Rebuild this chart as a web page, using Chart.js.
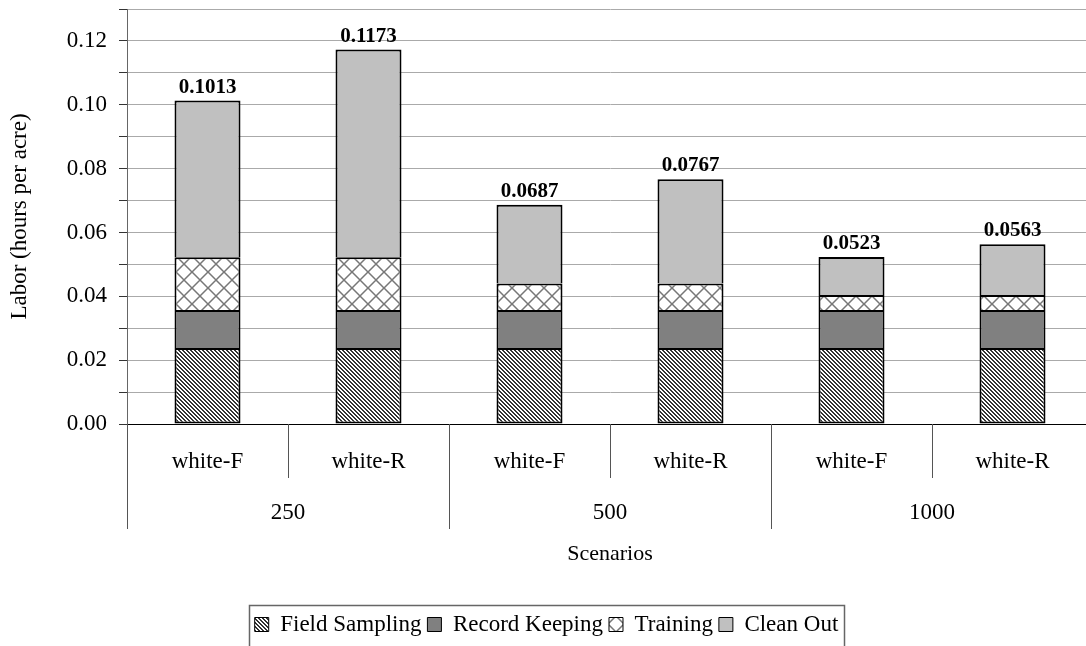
<!DOCTYPE html>
<html>
<head>
<meta charset="utf-8">
<script src="https://cdn.jsdelivr.net/npm/chart.js@4.4.1/dist/chart.umd.min.js"></script>
<style>
  html, body { margin: 0; padding: 0; background: #fff; overflow: hidden; }
  #contenedor { width: 1094px; height: 646px; }
</style>
</head>
<body>
<div id="contenedor"><canvas id="grafica"></canvas></div>
<script>
// Datos
const categorias = ['white-F', 'white-R', 'white-F', 'white-R', 'white-F', 'white-R'];
const grupos = ['250', '500', '1000'];
const fieldSampling = [0.0238, 0.0238, 0.0238, 0.0238, 0.0238, 0.0238];
const recordKeeping = [0.0119, 0.0119, 0.0119, 0.0119, 0.0119, 0.0119];
const training = [0.0165, 0.0165, 0.0083, 0.0083, 0.0047, 0.0047];
const cleanOut = [0.0491, 0.0651, 0.0247, 0.0327, 0.0119, 0.0159];

Chart.defaults.font.family = "'Liberation Serif', 'Times New Roman', serif";
Chart.defaults.color = '#000';

const canvas = document.getElementById('grafica');
const ctxBase = canvas.getContext('2d');

// Patron de rayas diagonales
function patronRayas() {
  const c = document.createElement('canvas');
  c.width = 4; c.height = 4;
  const g = c.getContext('2d');
  g.fillStyle = '#fff';
  g.fillRect(0, 0, 4, 4);
  g.fillStyle = '#333';
  for (let yy = 0; yy < 4; yy++) {
    for (let xx = 0; xx < 4; xx++) {
      if ((((xx - yy) % 4) + 4) % 4 < 2) g.fillRect(xx, yy, 1, 1);
    }
  }
  return ctxBase.createPattern(c, 'repeat');
}

// Patron de rombos
function patronRombos() {
  const c = document.createElement('canvas');
  c.width = 16; c.height = 16;
  const g = c.getContext('2d');
  g.fillStyle = '#fff';
  g.fillRect(0, 0, 16, 16);
  g.strokeStyle = '#777';
  g.lineWidth = 1.5;
  g.beginPath();
  g.moveTo(0, 0); g.lineTo(16, 16);
  g.moveTo(16, 0); g.lineTo(0, 16);
  g.stroke();
  return ctxBase.createPattern(c, 'repeat');
}

// Separadores y etiquetas de grupo bajo el eje x, y marco de la leyenda
const separadores = {
  id: 'separadores',
  afterDraw(chart) {
    const ctx = chart.ctx;
    const x = chart.scales.x;
    const y0 = chart.chartArea.bottom;
    const ancho = x.getPixelForValue(1) - x.getPixelForValue(0);
    ctx.save();
    ctx.strokeStyle = '#555';
    ctx.lineWidth = 1;
    for (let i = 0; i <= categorias.length; i++) {
      const px = Math.round(x.getPixelForValue(i) - ancho / 2) + 0.5;
      const largo = (i % 2 === 0) ? 105 : 54;
      ctx.beginPath();
      ctx.moveTo(px, y0);
      ctx.lineTo(px, y0 + largo);
      ctx.stroke();
    }
    ctx.font = "23px 'Liberation Serif'";
    ctx.fillStyle = '#000';
    ctx.textAlign = 'center';
    ctx.textBaseline = 'middle';
    grupos.forEach((g, k) => {
      const cx = (x.getPixelForValue(2 * k) + x.getPixelForValue(2 * k + 1)) / 2;
      ctx.fillText(g, cx, y0 + 89);
    });

    const cajas = chart.legend.legendHitBoxes;
    if (cajas && cajas.length) {
      const ult = cajas[cajas.length - 1];
      const izq = Math.round(cajas[0].left - 6) + 0.5;
      const der = Math.round(ult.left + ult.width + 6) + 0.5;
      const arriba = Math.round(chart.legend.top - 2) + 0.5;
      ctx.strokeStyle = '#666';
      ctx.lineWidth = 1.5;
      ctx.strokeRect(izq, arriba, der - izq, 60);
    }
    ctx.restore();
  }
};

// Totales sobre cada barra
const totales = {
  id: 'totales',
  afterDatasetsDraw(chart) {
    const ctx = chart.ctx;
    const meta = chart.getDatasetMeta(chart.data.datasets.length - 1);
    ctx.save();
    ctx.font = "bold 21px 'Liberation Serif'";
    ctx.fillStyle = '#000';
    ctx.textAlign = 'center';
    ctx.textBaseline = 'alphabetic';
    meta.data.forEach((barra, i) => {
      const total = fieldSampling[i] + recordKeeping[i] + training[i] + cleanOut[i];
      ctx.fillText(total.toFixed(4), barra.x, barra.y - 8);
    });
    ctx.restore();
  }
};

const estiloBarra = {
  borderColor: '#000',
  borderWidth: { top: 2, left: 2, right: 2, bottom: 0 },
  borderSkipped: false,
  barPercentage: 0.41,
  categoryPercentage: 1.0,
};

new Chart(canvas, {
  type: 'bar',
  data: {
    labels: categorias,
    datasets: [
      Object.assign({}, estiloBarra, { label: 'Field Sampling', data: fieldSampling, backgroundColor: patronRayas(),
        borderWidth: { top: 2, left: 2, right: 2, bottom: 2 } }),
      Object.assign({}, estiloBarra, { label: 'Record Keeping', data: recordKeeping, backgroundColor: '#808080' }),
      Object.assign({}, estiloBarra, { label: 'Training', data: training, backgroundColor: patronRombos() }),
      Object.assign({}, estiloBarra, { label: 'Clean Out', data: cleanOut, backgroundColor: '#c0c0c0' }),
    ],
  },
  options: {
    responsive: true,
    maintainAspectRatio: false,
    animation: false,
    layout: { padding: { top: 9, left: 0, right: 1, bottom: 0 } },
    plugins: {
      legend: {
        position: 'bottom',
        labels: {
          color: '#000',
          font: { size: 23 },
          boxWidth: 14,
          boxHeight: 14,
          padding: 6,
          generateLabels: (chart) => Chart.defaults.plugins.legend.labels.generateLabels(chart)
            .map(l => Object.assign(l, { lineWidth: 1 })),
        },
      },
      tooltip: { enabled: false },
    },
    scales: {
      x: {
        stacked: true,
        afterFit: (s) => { s.height = 183; s.paddingLeft = 0; s.paddingRight = 0; },
        grid: { display: false, drawTicks: false },
        border: { display: true, color: '#000', width: 1 },
        ticks: { padding: 24, color: '#000', font: { size: 23 } },
        title: {
          display: true,
          text: 'Scenarios',
          color: '#000',
          font: { size: 22 },
          padding: { top: 0, bottom: 40 },
        },
      },
      y: {
        stacked: true,
        min: 0,
        max: 0.13,
        afterFit: (s) => { s.width = 127; s.paddingTop = 0; s.paddingBottom = 0; },
        ticks: {
          stepSize: 0.01,
          padding: 12,
          color: '#000',
          font: { size: 23 },
          callback: (v) => (Math.round(v * 100) % 2 === 0 ? v.toFixed(2) : ''),
        },
        grid: {
          color: (c) => (c.tick && c.tick.value === 0 ? '#000' : '#aaa'),
          tickColor: '#333',
          tickLength: 8,
          lineWidth: 1,
        },
        border: { color: '#666', width: 1 },
        title: {
          display: true,
          text: 'Labor (hours per acre)',
          color: '#000',
          font: { size: 23 },
          padding: { top: 6, bottom: 0 },
        },
      },
    },
  },
  plugins: [separadores, totales],
});
</script>
</body>
</html>
